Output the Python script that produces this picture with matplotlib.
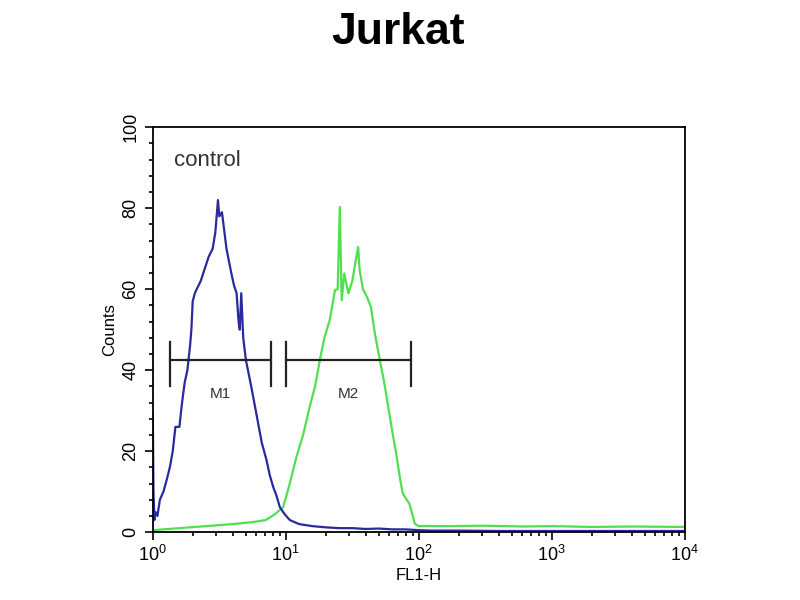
import numpy as np
import matplotlib.pyplot as plt
from matplotlib.ticker import MultipleLocator, LogLocator, NullFormatter

plt.rcParams['font.family'] = ['Liberation Sans', 'DejaVu Sans']
plt.rcParams['mathtext.fontset'] = 'custom'
plt.rcParams['mathtext.rm'] = 'Liberation Sans'

# control histogram (blue): log10(FL1-H) and counts
ctrl_log = [0.0, 0.005, 0.012, 0.02, 0.035, 0.053, 0.08, 0.105, 0.128, 0.15, 0.17, 0.2,
            0.22, 0.24, 0.26, 0.28, 0.29, 0.30, 0.316, 0.33, 0.36, 0.39, 0.42, 0.45,
            0.47, 0.49, 0.50, 0.52, 0.554, 0.59, 0.61, 0.63, 0.645, 0.654, 0.665,
            0.68, 0.70, 0.74, 0.78, 0.82, 0.855, 0.88, 0.905, 0.93, 0.955, 0.99,
            1.03, 1.1, 1.2, 1.3, 1.4, 1.5, 1.6, 1.7, 1.8, 1.9, 2.0, 2.1, 2.3, 2.6,
            3.0, 3.5, 4.0]
ctrl_cnt = [29, 10, 3, 5, 4, 8, 10, 13, 16, 20, 26, 26,
            32, 37, 40, 46, 50, 57, 59, 60, 62, 65, 68, 70,
            74, 82, 78, 79, 70, 64, 61, 59, 52, 50, 59,
            48, 42.5, 36, 29, 22, 17.8, 14, 11.2, 9, 6.2, 4.5,
            3, 2, 1.5, 1.2, 1.0, 1.0, 0.8, 0.9, 0.7, 0.7, 0.5, 0.4, 0.4, 0.3,
            0.3, 0.3, 0.3]

# sample histogram (green)
samp_log = [0.0, 0.2, 0.4, 0.6, 0.75, 0.85, 0.92, 0.98, 1.03, 1.08, 1.13, 1.18,
            1.22, 1.256, 1.29, 1.33, 1.37, 1.39, 1.406, 1.42, 1.44, 1.47, 1.50,
            1.52, 1.544, 1.555, 1.58, 1.61, 1.64, 1.67, 1.707, 1.74, 1.77, 1.80,
            1.83, 1.86, 1.88, 1.93, 1.97, 2.0, 2.2, 2.5, 2.8, 3.0, 3.3, 3.6, 4.0]
samp_cnt = [0.5, 1.0, 1.5, 2.0, 2.5, 3.0, 4.5, 6.2, 12, 18.6, 24, 31,
            36, 42.5, 48, 52.3, 59.8, 60, 80.3, 57.3, 63.9, 59, 62,
            66, 70.4, 64.7, 60, 58.1, 55.6, 49, 42.5, 37, 31, 25,
            19.4, 13, 9.5, 7, 2.1, 1.5, 1.5, 1.6, 1.4, 1.5, 1.3, 1.4, 1.3]

# marker gates (log10 of start/end) and height
gate_names = ['M1', 'M2']
gate_start = [0.13, 1.0]
gate_end = [0.89, 1.94]
gate_level = 42.5

fig = plt.figure(figsize=(8, 6), dpi=100)
ax = fig.add_axes([0.191, 0.113, 0.665, 0.675])

ax.plot(10 ** np.array(samp_log), samp_cnt, color='#4fe04f', lw=1.6)
ax.plot(10 ** np.array(ctrl_log), ctrl_cnt, color='#2a2a9c', lw=1.6)

for name, s, e in zip(gate_names, gate_start, gate_end):
    ax.plot([10 ** s, 10 ** e], [gate_level, gate_level], color='#222222', lw=1.6)
    ax.plot([10 ** s, 10 ** s], [36, 47], color='#222222', lw=1.6)
    ax.plot([10 ** e, 10 ** e], [36, 47], color='#222222', lw=1.6)
    ax.text(10 ** ((s + e) / 2), 34, name, ha='center', va='center',
            fontsize=11, color='#333333')

ax.text(1.45, 90.5, 'control', fontsize=16, color='#333333')

ax.set_xscale('log')
ax.set_xlim(1, 1e4)
ax.set_ylim(0, 100)
ax.xaxis.set_major_locator(LogLocator(base=10))
ax.xaxis.set_minor_locator(LogLocator(base=10, subs=np.arange(2, 10)))
ax.xaxis.set_minor_formatter(NullFormatter())
ax.yaxis.set_major_locator(MultipleLocator(20))
ax.yaxis.set_minor_locator(MultipleLocator(4))
ax.tick_params(which='both', direction='out', width=1.2)
ax.tick_params(which='major', length=6, labelsize=13)
ax.tick_params(which='minor', length=3)
for lbl in ax.get_yticklabels():
    lbl.set_rotation(90)
    lbl.set_va('center')
for sp in ax.spines.values():
    sp.set_linewidth(1.3)

ax.set_xlabel('FL1-H', fontsize=12, labelpad=2)
ax.set_ylabel('Counts', fontsize=12, labelpad=4)
fig.text(0.498, 0.945, 'Jurkat', ha='center', va='center', fontsize=32,
         fontweight='bold')

fig.savefig('out.png', dpi=100)
